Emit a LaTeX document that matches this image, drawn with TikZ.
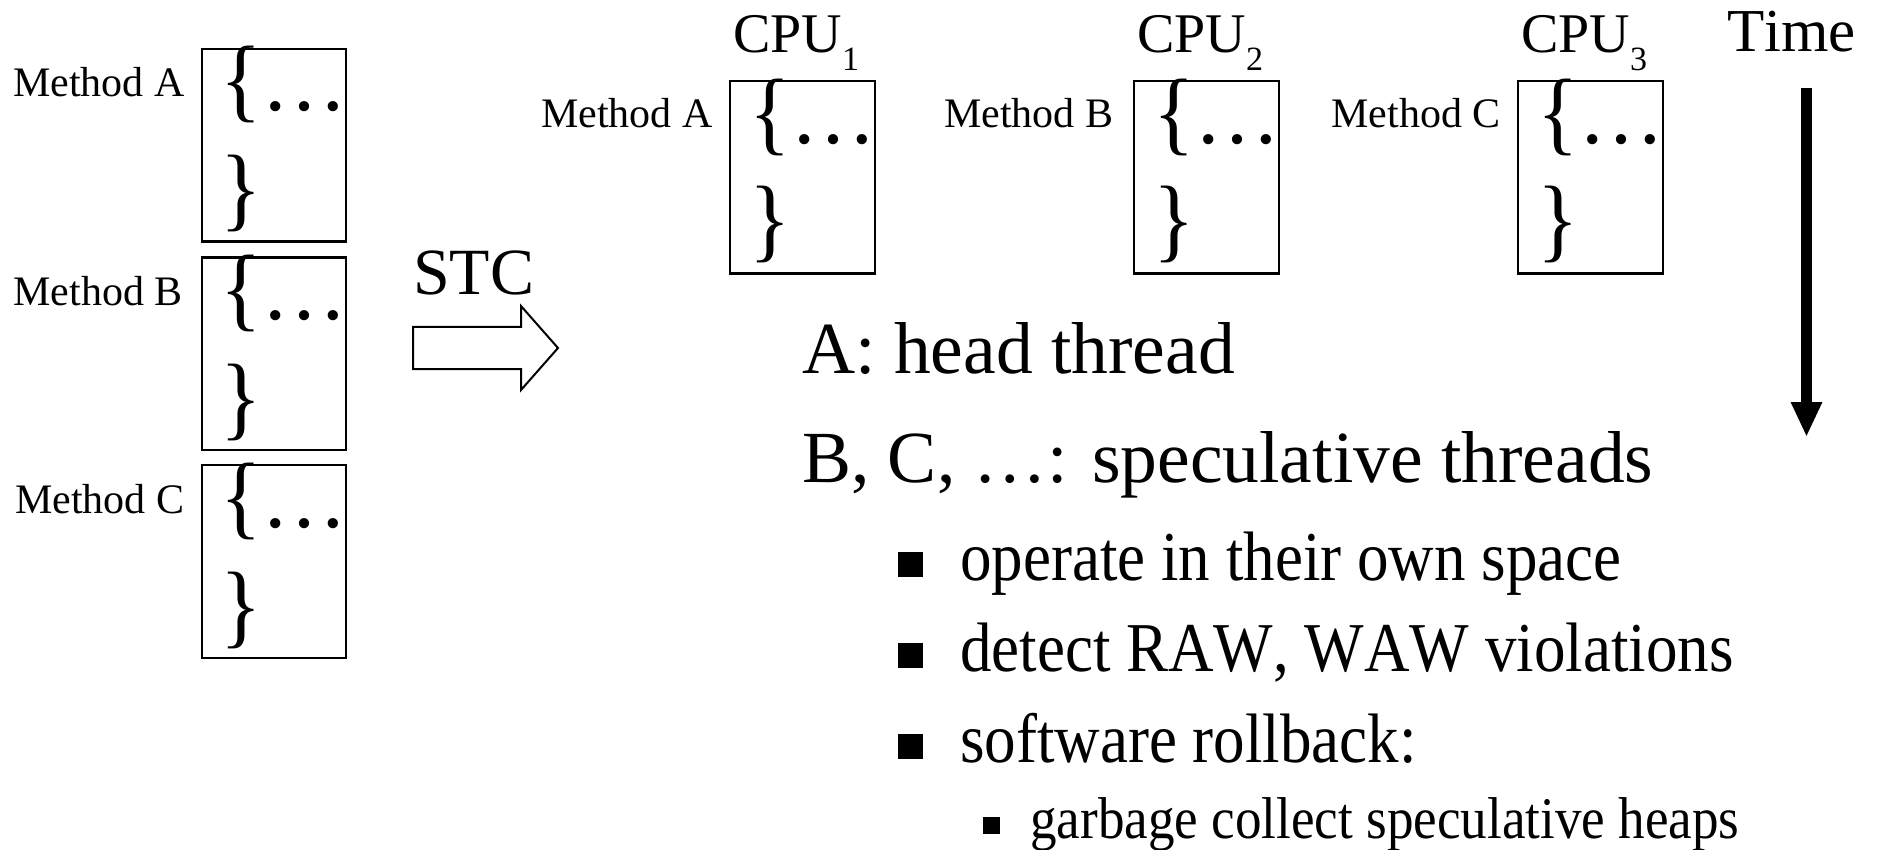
\documentclass[tikz,border=0pt]{standalone}
\usepackage{fontspec}
\setmainfont[Kerning=Off]{Liberation Serif}
\usetikzlibrary{arrows.meta}
\tikzset{
  mbox/.style={draw, line width=2.2pt, minimum width=144.5pt, minimum height=192.5pt, inner sep=0pt, anchor=north west},
  code/.style={anchor=base west, inner sep=0pt, font=\fontsize{86}{86}\selectfont},
  mlabel/.style={anchor=base east, inner sep=0pt, font=\fontsize{42}{42}\selectfont},
  cpu/.style={anchor=base west, inner sep=0pt, font=\fontsize{56}{56}\selectfont},
  big/.style={anchor=base west, inner sep=0pt, font=\fontsize{73.5}{73.5}\selectfont},
  item/.style={anchor=base west, inner sep=0pt, font=\fontsize{70}{70}\selectfont},
  subitem/.style={anchor=base west, inner sep=0pt, font=\fontsize{59}{59}\selectfont},
  sq/.style={fill=black, draw=none, inner sep=0pt, minimum size=25pt, anchor=south west},
  sqs/.style={fill=black, draw=none, inner sep=0pt, minimum size=17pt, anchor=south west},
  stcarrow/.style={draw, line width=2pt, line join=miter, fill=white},
  timearrow/.style={line width=10.6pt, -{Triangle[length=35pt,width=29pt]}},
}
\newcommand{\cpusub}[1]{\raisebox{-18pt}{\fontsize{34}{34}\selectfont #1}}
\newcommand{\tallbrace}[1]{\scalebox{1}[1.08]{#1}}
\begin{document}
\begin{tikzpicture}[x=1pt,y=-1pt]
\path[use as bounding box] (0,0) rectangle (1885,850);

% left column of methods
\foreach \n/\y/\lab/\g in {A/48/Method A/15.5, B/256.5/Method B/17.5, C/464/Method C/16}{
  \node[mbox] (l\n) at (200.5,\y) {};
  \node[code] (l\n open) at ([shift={(20,63)}]l\n.north west) {\tallbrace{\{}…};
  \node[code] (l\n close) at ([shift={(20,172)}]l\n.north west) {\tallbrace{\}}};
  \node[mlabel] (l\n lab) at ([shift={(-\g,49)}]l\n.north west) {\lab};
}

% STC arrow
\node[anchor=base west, inner sep=0pt, font=\fontsize{66}{66}\selectfont] (stc) at (413,295) {STC};
\draw[stcarrow] (413,327) -- (521,327) -- (521,306) -- (558,348) -- (521,390) -- (521,369) -- (413,369) -- cycle;

% CPU boxes
\foreach \n/\x/\lab/\g/\k in {1/729/Method A/16/1, 2/1133/Method B/19.5/2, 3/1517/Method C/16/3}{
  \node[mbox] (c\n) at (\x,80) {};
  \node[code] (c\n open) at ([shift={(20,64)}]c\n.north west) {\tallbrace{\{}…};
  \node[code] (c\n close) at ([shift={(20,171)}]c\n.north west) {\tallbrace{\}}};
  \node[mlabel] (c\n lab) at ([shift={(-\g,48)}]c\n.north west) {\lab};
  \node[cpu] (c\n cpu) at ([shift={(4,-27)}]c\n.north west) {CPU\cpusub{\k}};
}

% time
\node[anchor=base west, inner sep=0pt, font=\fontsize{61}{61}\selectfont] (time) at (1727,52) {Time};
\coordinate (t0) at (1806.5,88);
\coordinate (t1) at (1806.5,437);
\draw[timearrow] (t0) -- (t1);

% text
\node[big] (head) at (802,373) {A: head thread};
\node[big] (spec) at (802,482) {B, C, …: speculative threads};

\node[sq] (b1) at (898,577) {};
\node[item] (i1) at (960,580) {\scalebox{0.9}[1]{operate in their own space}};
\node[sq] (b2) at (898,668) {};
\node[item] (i2) at (960,671) {\scalebox{0.9}[1]{detect RAW, WAW violations}};
\node[sq] (b3) at (898,759) {};
\node[item] (i3) at (960,762) {\scalebox{0.9}[1]{software rollback:}};
\node[sqs] (b4) at (983,834) {};
\node[subitem] (i4) at (1030,838) {\scalebox{0.9}[1]{garbage collect speculative heaps}};
\end{tikzpicture}
\end{document}
